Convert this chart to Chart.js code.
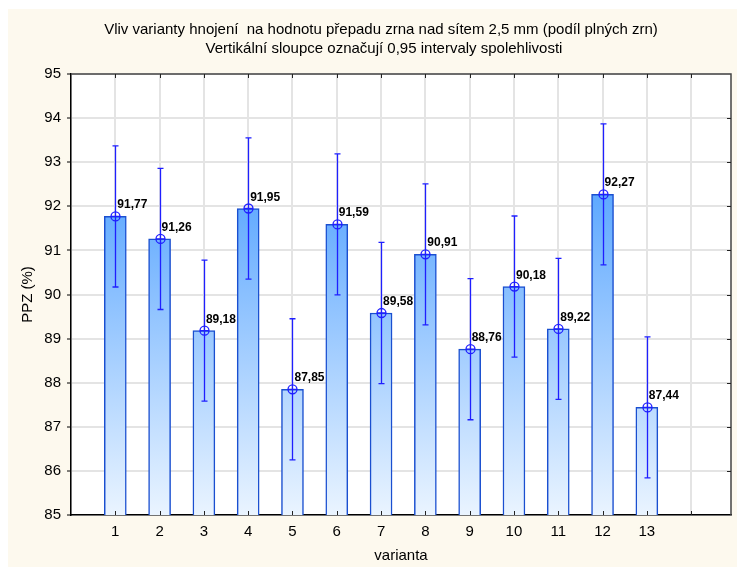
<!DOCTYPE html>
<html>
<head>
<meta charset="utf-8">
<script src="https://cdn.jsdelivr.net/npm/chart.js@4.4.0/dist/chart.umd.min.js"></script>
<style>
  html, body { margin: 0; padding: 0; background: #fff; }
  #wrap { width: 737px; height: 567px; }
</style>
</head>
<body>
<div id="wrap"><canvas id="chart" width="737" height="567"></canvas></div>
<script>
const TITLE = [
  'Vliv varianty hnojení  na hodnotu přepadu zrna nad sítem 2,5 mm (podíl plných zrn)',
  'Vertikální sloupce označují 0,95 intervaly spolehlivosti'
];
const varianty = [1, 2, 3, 4, 5, 6, 7, 8, 9, 10, 11, 12, 13];
const prumer = [91.77, 91.26, 89.18, 91.95, 87.85, 91.59, 89.58, 90.91, 88.76, 90.18, 89.22, 92.27, 87.44];
const dolni  = [90.17, 89.66, 87.58, 90.35, 86.25, 89.99, 87.98, 89.31, 87.16, 88.58, 87.62, 90.67, 85.84];
const horni  = [93.37, 92.86, 90.78, 93.55, 89.45, 93.19, 91.18, 92.51, 90.36, 91.78, 90.82, 93.87, 89.04];
const popisky = ['91,77','91,26','89,18','91,95','87,85','91,59','89,58','90,91','88,76','90,18','89,22','92,27','87,44'];

Chart.defaults.font.family = 'Arial, "Liberation Sans", sans-serif';
Chart.defaults.color = '#000';

const ERR = '#1f1fff';

// background, frame, error bars, circles and value labels
const decor = {
  id: 'decor',
  beforeDraw(c) {
    const ctx = c.ctx, a = c.chartArea;
    ctx.save();
    ctx.fillStyle = '#fff';
    ctx.fillRect(0, 0, c.width, c.height);
    ctx.fillStyle = '#fdf9ee';
    ctx.fillRect(8, 9, c.width - 8, c.height - 9);
    ctx.fillStyle = '#fff';
    ctx.fillRect(a.left, a.top, a.right - a.left, a.bottom - a.top);
    ctx.fillStyle = '#000';
    ctx.font = '15px Arial, "Liberation Sans", sans-serif';
    ctx.textAlign = 'center';
    ctx.textBaseline = 'middle';
    ctx.fillText(TITLE[0], 381, 30);
    ctx.fillText(TITLE[1], 384, 49);
    ctx.restore();
  },
  afterDatasetsDraw(c) {
    const ctx = c.ctx, a = c.chartArea;
    const xs = c.scales.x, ys = c.scales.y;
    ctx.save();
    // frame top/right + inner ticks
    ctx.strokeStyle = '#444';
    ctx.lineWidth = 1.5;
    ctx.beginPath();
    ctx.moveTo(a.left, a.top); ctx.lineTo(a.right, a.top); ctx.lineTo(a.right, a.bottom);
    ctx.stroke();
    ctx.lineWidth = 1;
    ctx.strokeStyle = '#222';
    ctx.beginPath();
    for (let v = 1; v <= 14; v++) {
      const px = Math.round(xs.getPixelForValue(v)) + 0.5;
      ctx.moveTo(px, a.top); ctx.lineTo(px, a.top + 4);
      ctx.moveTo(px, a.bottom); ctx.lineTo(px, a.bottom - 4);
    }
    for (let v = 86; v <= 94; v++) {
      const py = Math.round(ys.getPixelForValue(v)) + 0.5;
      ctx.moveTo(a.right, py); ctx.lineTo(a.right - 4, py);
    }
    ctx.stroke();

    // error bars
    ctx.strokeStyle = ERR;
    ctx.lineWidth = 1.3;
    varianty.forEach((v, i) => {
      const px = Math.round(xs.getPixelForValue(v)) + 0.5;
      const yl = ys.getPixelForValue(dolni[i]);
      const yh = ys.getPixelForValue(horni[i]);
      ctx.beginPath();
      ctx.moveTo(px, yl); ctx.lineTo(px, yh);
      ctx.moveTo(px - 3, yl); ctx.lineTo(px + 3, yl);
      ctx.moveTo(px - 3, yh); ctx.lineTo(px + 3, yh);
      ctx.stroke();
      const py = ys.getPixelForValue(prumer[i]);
      ctx.beginPath();
      ctx.arc(px, py, 4.5, 0, Math.PI * 2);
      ctx.moveTo(px - 4.5, py); ctx.lineTo(px + 4.5, py);
      ctx.stroke();
    });

    // value labels
    ctx.fillStyle = '#000';
    ctx.font = 'bold 12px Arial, "Liberation Sans", sans-serif';
    ctx.textAlign = 'left';
    ctx.textBaseline = 'alphabetic';
    varianty.forEach((v, i) => {
      const px = xs.getPixelForValue(v);
      const py = ys.getPixelForValue(prumer[i]);
      ctx.fillText(popisky[i], px + 2, py - 8);
    });
    ctx.restore();
  }
};

new Chart(document.getElementById('chart'), {
  type: 'bar',
  data: {
    datasets: [{
      data: varianty.map((v, i) => ({ x: v, y: prumer[i] })),
      barThickness: 22,
      borderWidth: 1.5,
      borderColor: '#1a4fd0',
      borderSkipped: 'start',
      backgroundColor: (ctx) => {
        const a = ctx.chart.chartArea;
        if (!a) return '#60a4ff';
        const g = ctx.chart.ctx.createLinearGradient(0, a.top, 0, a.bottom);
        g.addColorStop(0, '#2a8cff');
        g.addColorStop(1, '#eaf4ff');
        return g;
      }
    }]
  },
  options: {
    responsive: false,
    animation: false,
    layout: { padding: { top: 74, right: 6, left: 0, bottom: 0 } },
    plugins: { legend: { display: false }, tooltip: { enabled: false } },
    scales: {
      x: {
        type: 'linear',
        min: 0,
        max: 14.9,
        offset: false,
        afterFit: (s) => { s.height = 52; },
        ticks: {
          stepSize: 1,
          includeBounds: false,
          autoSkip: false,
          maxRotation: 0,
          padding: 8,
          font: { size: 15 },
          callback: (v) => (v >= 1 && v <= 13 ? String(v) : '')
        },
        grid: { color: '#e4e4e4', lineWidth: 2, drawTicks: false, offset: false },
        border: { color: '#000', width: 1.5 },
        title: { display: true, text: 'varianta', font: { size: 15 }, padding: { top: 0, bottom: 2 } }
      },
      y: {
        min: 85,
        max: 95,
        afterFit: (s) => { s.width = 71; },
        ticks: { stepSize: 1, padding: 6, font: { size: 15 } },
        grid: { color: '#e4e4e4', lineWidth: 2, tickLength: 4, tickColor: '#000', tickWidth: 1 },
        border: { color: '#000', width: 1.5 },
        title: { display: true, text: 'PPZ (%)', font: { size: 15 }, padding: { top: 19, bottom: 0 } }
      }
    }
  },
  plugins: [decor]
});
</script>
</body>
</html>
